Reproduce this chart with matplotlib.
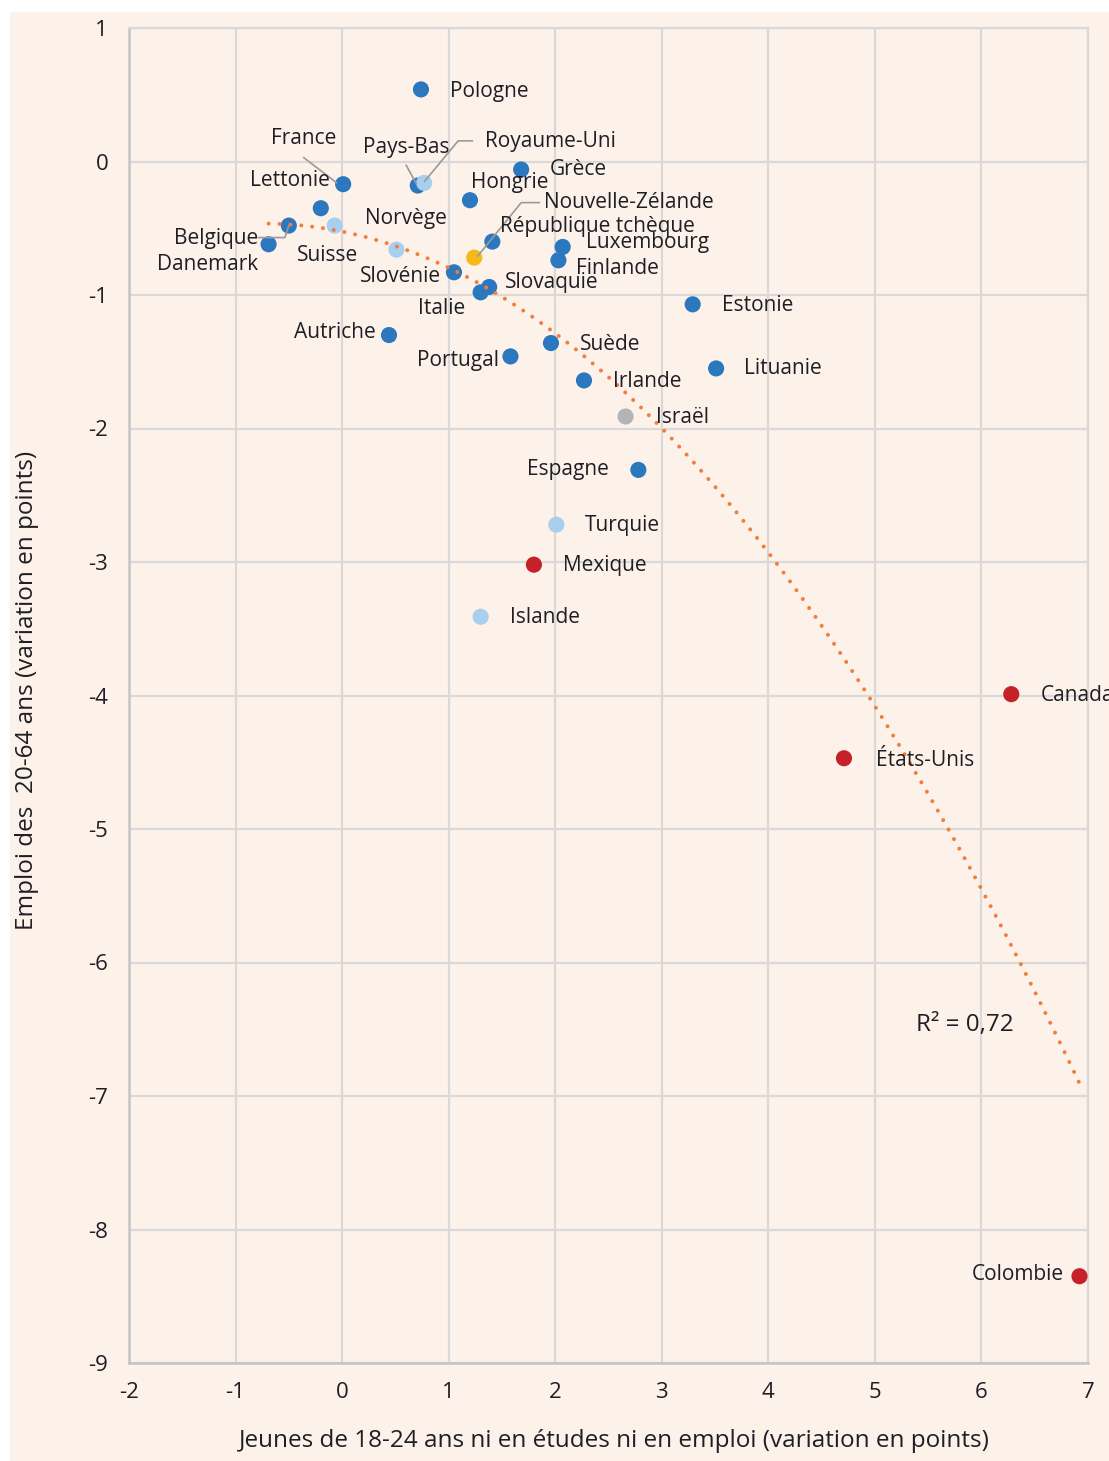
import numpy as np
import matplotlib
matplotlib.use("Agg")
import matplotlib.pyplot as plt
from matplotlib.patches import Rectangle

plt.rcParams['font.family'] = ['Open Sans', 'DejaVu Sans']

# Variation 2019-2023 (points)
countries = ["Pologne", "France", "Lettonie", "Pays-Bas", "Royaume-Uni", "Grèce",
             "Hongrie", "Norvège", "Nouvelle-Zélande", "République tchèque",
             "Luxembourg", "Finlande", "Belgique", "Danemark", "Suisse", "Slovénie",
             "Slovaquie", "Italie", "Autriche", "Portugal", "Suède", "Irlande",
             "Estonie", "Lituanie", "Israël", "Espagne", "Turquie", "Mexique",
             "Islande", "Canada", "États-Unis", "Colombie"]
neet_change = [0.74, 0.01, -0.20, 0.71, 0.77, 1.68,
               1.20, 0.51, 1.24, 1.41,
               2.07, 2.03, -0.50, -0.69, -0.07, 1.05,
               1.38, 1.30, 0.44, 1.58, 1.96, 2.27,
               3.29, 3.51, 2.66, 2.78, 2.01, 1.80,
               1.30, 6.28, 4.71, 6.92]
employment_change = [0.54, -0.17, -0.35, -0.18, -0.16, -0.06,
                     -0.29, -0.66, -0.72, -0.60,
                     -0.64, -0.74, -0.48, -0.62, -0.48, -0.83,
                     -0.94, -0.98, -1.30, -1.46, -1.36, -1.64,
                     -1.07, -1.55, -1.91, -2.31, -2.72, -3.02,
                     -3.41, -3.99, -4.47, -8.35]
group = ["ue", "ue", "ue", "ue", "europe", "ue",
         "ue", "europe", "oceanie", "ue",
         "ue", "ue", "ue", "ue", "europe", "ue",
         "ue", "ue", "ue", "ue", "ue", "ue",
         "ue", "ue", "israel", "ue", "europe", "ameriques",
         "europe", "ameriques", "ameriques", "ameriques"]
r2_label = "R² = 0,72"
x_ticks = list(range(-2, 8))
y_ticks = list(range(-9, 2))

group_colors = {"ue": "#2B78BE", "europe": "#A8D0EE", "oceanie": "#F6B91A",
                "ameriques": "#C62128", "israel": "#B3B4B5"}

# label placement: (dx, dy) in pixels from the point, horizontal alignment
label_pos = {
    "Pologne": (29, -2, "left"), "France": (-39, 46, "center"),
    "Lettonie": (9, 28, "right"), "Pays-Bas": (-12, 38, "center"),
    "Royaume-Uni": (61, 41, "left"), "Grèce": (29, 0, "left"),
    "Hongrie": (1, 18, "left"), "Norvège": (9, 31, "center"),
    "Nouvelle-Zélande": (70, 55, "left"), "République tchèque": (8, 15, "left"),
    "Luxembourg": (23, 4, "left"), "Finlande": (18, -8, "left"),
    "Belgique": (-31, -13, "right"), "Danemark": (-10, -20, "right"),
    "Suisse": (-7, -30, "center"), "Slovénie": (-13, -4, "right"),
    "Slovaquie": (16, 4, "left"), "Italie": (-39, -16, "center"),
    "Autriche": (-13, 3, "right"), "Portugal": (-11, -4, "right"),
    "Suède": (29, -1, "left"), "Irlande": (29, -1, "left"),
    "Estonie": (29, -1, "left"), "Lituanie": (28, 0, "left"),
    "Israël": (30, -1, "left"), "Espagne": (-29, 0, "right"),
    "Turquie": (29, -1, "left"), "Mexique": (29, -1, "left"),
    "Islande": (29, -1, "left"), "Canada": (29, -1, "left"),
    "États-Unis": (32, -2, "left"), "Colombie": (-16, 2, "right"),
}
# leader lines: polyline vertices in pixel offsets from the point
leaders = {
    "France": [(-40, 27), (-6, 1)],
    "Pays-Bas": [(-12, 21), (-1, 1)],
    "Royaume-Uni": [(49, 42), (34, 42), (0, 1)],
    "Nouvelle-Zélande": [(66, 55), (47, 55), (3, 1)],
    "Belgique": [(-31, -12), (-4, -12), (0, 0)],
}

text_color = "#1E1E24"
bg = "#FDF2EA"
grid_c = "#D9D9D9"
label_size = 15

W, H = 1109, 1461
fig = plt.figure(figsize=(W / 100, H / 100), dpi=100)
fig.patch.set_facecolor("white")
fig.patches.append(Rectangle((10 / W, 0), 1, (H - 12) / H, transform=fig.transFigure,
                             facecolor=bg, edgecolor="none", zorder=-10))

ax = fig.add_axes([129 / W, 1 - 1363 / H, (1088 - 129) / W, (1363 - 28) / H])
ax.set_facecolor(bg)
ax.set_xlim(-2, 7)
ax.set_ylim(-9, 1)
ax.set_xticks(x_ticks)
ax.set_yticks(y_ticks)
ax.set_xticklabels([str(t) for t in x_ticks])
ax.set_yticklabels([str(t) for t in y_ticks])
ax.tick_params(length=0, labelsize=16, colors=text_color)
ax.tick_params(axis="x", pad=14)
ax.tick_params(axis="y", pad=15)
ax.grid(True, color=grid_c, lw=1.6, zorder=0)
for side in ["top", "right"]:
    ax.spines[side].set_color(grid_c)
    ax.spines[side].set_linewidth(1.6)
for side in ["left", "bottom"]:
    ax.spines[side].set_color("#C4C4C4")
    ax.spines[side].set_linewidth(1.8)

x = np.array(neet_change)
y = np.array(employment_change)

# polynomial trend line (order 2)
coef = np.polyfit(x, y, 2)
xs = np.linspace(x.min(), x.max(), 300)
ax.plot(xs, np.polyval(coef, xs), color="#F07F3C", lw=2.9,
        linestyle=(0, (0.01, 2.7)), dash_capstyle="round", zorder=4)

cols = [group_colors[g] for g in group]
ax.scatter(x, y, s=135, c=cols, edgecolors="none", zorder=3)

for name, xi, yi in zip(countries, x, y):
    dx, dy, ha = label_pos[name]
    ax.annotate(name, (xi, yi), xytext=(dx, dy), textcoords="offset pixels",
                ha=ha, va="center", fontsize=label_size, color=text_color,
                annotation_clip=False, zorder=6)
    if name in leaders:
        pts = leaders[name]
        base = ax.transData.transform((xi, yi))
        verts = np.array([[base[0] + p[0], base[1] + p[1]] for p in pts])
        dv = ax.transData.inverted().transform(verts)
        ax.plot(dv[:, 0], dv[:, 1], color="#9A9A9A", lw=1.2, zorder=5,
                solid_capstyle="butt")

ax.text(916, H - 1025, r2_label, transform=None, fontsize=17.5, color=text_color,
        ha="left", va="center")

fig.text(614 / W, 1 - 1441 / H, "Jeunes de 18-24 ans ni en études ni en emploi (variation en points)",
         ha="center", va="center", fontsize=17.5, color=text_color)
fig.text(27 / W, 1 - 690 / H, "Emploi des  20-64 ans (variation en points)",
         ha="center", va="center", rotation=90, fontsize=17.5, color=text_color)

fig.savefig("out.png", dpi=100, facecolor=fig.get_facecolor())
